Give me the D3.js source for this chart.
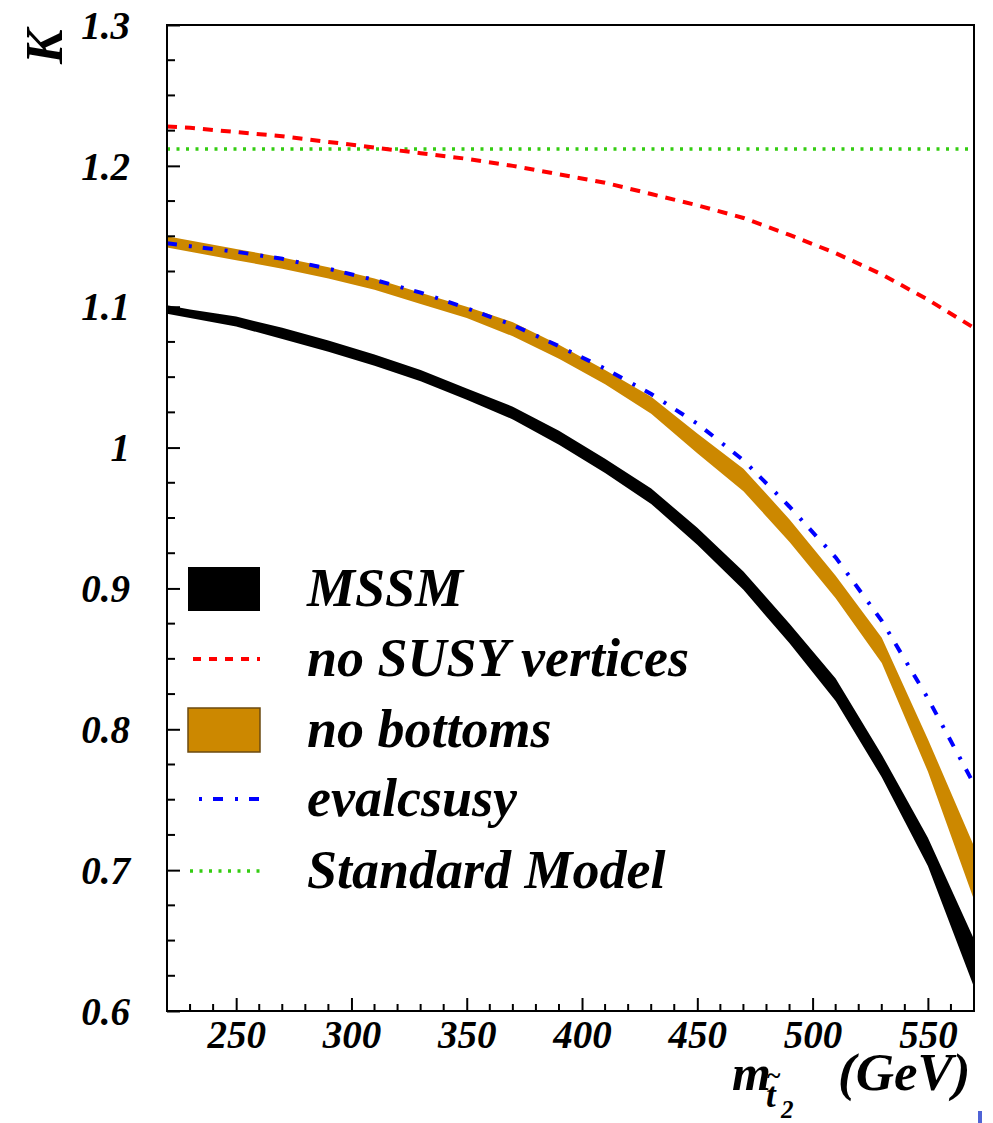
<!DOCTYPE html>
<html>
<head>
<meta charset="utf-8">
<script src="https://cdn.jsdelivr.net/npm/d3@7"></script>
<style>
  html, body { margin: 0; padding: 0; background: #fff; }
</style>
</head>
<body>
<div id="chart"></div>
<script>
// stop mass grid (GeV)
const massGrid = [220, 230, 250, 270, 290, 310, 330, 350, 370, 390, 410, 430, 450, 470, 490, 510, 530, 550, 570];

// MSSM band (upper / lower edge)
const mssmUpper = [1.101, 1.098, 1.093, 1.085, 1.076, 1.066, 1.055, 1.042, 1.029, 1.012, 0.992, 0.971, 0.943, 0.912, 0.875, 0.836, 0.782, 0.723, 0.651];
const mssmLower = [1.095, 1.092, 1.086, 1.077, 1.068, 1.058, 1.047, 1.034, 1.020, 1.002, 0.982, 0.960, 0.931, 0.899, 0.861, 0.820, 0.766, 0.703, 0.617];

// no bottoms band
const noBottomsUpper = [1.150, 1.147, 1.141, 1.135, 1.128, 1.120, 1.110, 1.100, 1.089, 1.073, 1.055, 1.036, 1.010, 0.985, 0.949, 0.909, 0.865, 0.793, 0.717];
const noBottomsLower = [1.142, 1.139, 1.133, 1.127, 1.120, 1.112, 1.102, 1.092, 1.079, 1.063, 1.045, 1.024, 0.996, 0.969, 0.933, 0.893, 0.847, 0.770, 0.679];

// no SUSY vertices
const noSusy = [1.228, 1.227, 1.224, 1.221, 1.217, 1.213, 1.209, 1.205, 1.200, 1.194, 1.188, 1.180, 1.172, 1.163, 1.151, 1.138, 1.123, 1.105, 1.085];

// evalcsusy
const evalcsusy = [1.145, 1.143, 1.139, 1.134, 1.127, 1.119, 1.110, 1.099, 1.087, 1.072, 1.056, 1.038, 1.017, 0.991, 0.958, 0.922, 0.877, 0.822, 0.761];

// Standard Model (flat)
const smValue = 1.212;
const smMass = [220, 570];

const xMajor = [250, 300, 350, 400, 450, 500, 550];
const yMajor = [0.6, 0.7, 0.8, 0.9, 1.0, 1.1, 1.2, 1.3];
const yTickLabels = ['0.6', '0.7', '0.8', '0.9', '1', '1.1', '1.2', '1.3'];

const legendLabels = ['MSSM', 'no SUSY vertices', 'no bottoms', 'evalcsusy', 'Standard Model'];

const W = 993;
const H = 1123;
const plot = { left: 167, right: 974, top: 25, bottom: 1011 };
const FONT = '"Liberation Serif", "Times New Roman", Times, serif';

const BROWN = '#cc8800';
const RED = '#ff0000';
const BLUE = '#0000ff';
const GREEN = '#33cc11';

const svg = d3.select('#chart').append('svg')
  .attr('width', W)
  .attr('height', H)
  .attr('font-family', FONT);

const x = d3.scaleLinear().domain([220, 570]).range([plot.left, plot.right]);
const y = d3.scaleLinear().domain([0.6, 1.3]).range([plot.bottom, plot.top]);

function styleText(sel, size) {
  return sel
    .attr('font-family', FONT)
    .attr('font-weight', 'bold')
    .attr('font-style', 'italic')
    .attr('font-size', size)
    .attr('fill', '#000');
}

svg.append('defs').append('clipPath').attr('id', 'clip')
  .append('rect')
  .attr('x', plot.left).attr('y', plot.top)
  .attr('width', plot.right - plot.left)
  .attr('height', plot.bottom - plot.top);

const curves = svg.append('g').attr('clip-path', 'url(#clip)');

const line = d3.line().x((d) => x(d[0])).y((d) => y(d[1]));
const band = d3.area().x((d) => x(d.m)).y0((d) => y(d.lo)).y1((d) => y(d.hi));

function bandData(upper, lower) {
  return massGrid.map((m, i) => ({ m, hi: upper[i], lo: lower[i] }));
}

// Standard Model
curves.append('path')
  .attr('d', line(smMass.map((m) => [m, smValue])))
  .attr('fill', 'none')
  .attr('stroke', GREEN)
  .attr('stroke-width', 3.5)
  .attr('stroke-dasharray', '3 6.5');

// no SUSY vertices
curves.append('path')
  .attr('d', line(massGrid.map((m, i) => [m, noSusy[i]])))
  .attr('fill', 'none')
  .attr('stroke', RED)
  .attr('stroke-width', 4)
  .attr('stroke-dasharray', '10 8');

// no bottoms
curves.append('path')
  .attr('d', band(bandData(noBottomsUpper, noBottomsLower)))
  .attr('fill', BROWN);

// evalcsusy
curves.append('path')
  .attr('d', line(massGrid.map((m, i) => [m, evalcsusy[i]])))
  .attr('fill', 'none')
  .attr('stroke', BLUE)
  .attr('stroke-width', 4)
  .attr('stroke-dasharray', '10 12 3 11');

// MSSM
curves.append('path')
  .attr('d', band(bandData(mssmUpper, mssmLower)))
  .attr('fill', '#000');

// ── Axes ─────────────────────────────────────────────
const yMinor = d3.range(0.6, 1.3001, 0.025).filter((v) => !yMajor.some((t) => Math.abs(t - v) < 1e-6));
const xMinor = d3.range(220, 571, 10).filter((v) => !xMajor.includes(v));

const yAxis = svg.append('g')
  .attr('transform', `translate(${plot.left},0)`)
  .call(d3.axisLeft(y).tickValues(yMajor).tickSize(-13).tickPadding(37)
    .tickFormat((d, i) => yTickLabels[i]));
yAxis.attr('font-family', FONT);
yAxis.select('.domain').remove();
yAxis.selectAll('line').attr('stroke', '#000').attr('stroke-width', 2);
styleText(yAxis.selectAll('text'), 39).attr('dy', '0.34em');

svg.append('g')
  .selectAll('line')
  .data(yMinor)
  .join('line')
  .attr('x1', plot.left).attr('x2', plot.left + 8)
  .attr('y1', (d) => y(d)).attr('y2', (d) => y(d))
  .attr('stroke', '#000').attr('stroke-width', 2);

const xAxis = svg.append('g')
  .attr('transform', `translate(0,${plot.bottom})`)
  .call(d3.axisBottom(x).tickValues(xMajor).tickSize(-13).tickPadding(9)
    .tickFormat(d3.format('d')));
xAxis.attr('font-family', FONT);
xAxis.select('.domain').remove();
xAxis.selectAll('line').attr('stroke', '#000').attr('stroke-width', 2);
styleText(xAxis.selectAll('text'), 39).attr('dy', '0.71em');

svg.append('g')
  .selectAll('line')
  .data(xMinor)
  .join('line')
  .attr('x1', (d) => x(d)).attr('x2', (d) => x(d))
  .attr('y1', plot.bottom).attr('y2', plot.bottom - 7)
  .attr('stroke', '#000').attr('stroke-width', 2);

// frame
svg.append('rect')
  .attr('x', plot.left).attr('y', plot.top)
  .attr('width', plot.right - plot.left)
  .attr('height', plot.bottom - plot.top)
  .attr('fill', 'none')
  .attr('stroke', '#000')
  .attr('stroke-width', 2);

// axis titles
styleText(svg.append('text'), 52)
  .attr('transform', 'translate(62,64) rotate(-90)')
  .text('K');

const xt = svg.append('g');
styleText(xt.append('text'), 50).attr('x', 732).attr('y', 1090).text('m');
styleText(xt.append('text'), 26).attr('x', 766).attr('y', 1084).text('~');
styleText(xt.append('text'), 35).attr('x', 766).attr('y', 1107).text('t');
styleText(xt.append('text'), 25).attr('x', 781).attr('y', 1118).text('2');
styleText(xt.append('text'), 53).attr('x', 838).attr('y', 1090).text('(GeV)');

// ── Legend ───────────────────────────────────────────
const legendRows = [589, 659, 730, 799, 871];
const lg = svg.append('g');

lg.append('rect')
  .attr('x', 188).attr('y', legendRows[0] - 22)
  .attr('width', 72).attr('height', 44)
  .attr('fill', '#000');

lg.append('line')
  .attr('x1', 193).attr('x2', 260)
  .attr('y1', legendRows[1]).attr('y2', legendRows[1])
  .attr('stroke', RED).attr('stroke-width', 4)
  .attr('stroke-dasharray', '8 8');

lg.append('rect')
  .attr('x', 188).attr('y', legendRows[2] - 22)
  .attr('width', 72).attr('height', 44)
  .attr('fill', BROWN)
  .attr('stroke', '#6b4a10')
  .attr('stroke-width', 1.5);

lg.append('line')
  .attr('x1', 199).attr('x2', 260)
  .attr('y1', legendRows[3]).attr('y2', legendRows[3])
  .attr('stroke', BLUE).attr('stroke-width', 4)
  .attr('stroke-dasharray', '3 11 10 12');

lg.append('line')
  .attr('x1', 190).attr('x2', 260)
  .attr('y1', legendRows[4]).attr('y2', legendRows[4])
  .attr('stroke', GREEN).attr('stroke-width', 3.5)
  .attr('stroke-dasharray', '3 6.5');

styleText(lg.selectAll('text.lbl')
  .data(legendLabels)
  .join('text')
  .attr('class', 'lbl'), 54)
  .attr('x', 307)
  .attr('y', (d, i) => legendRows[i] + 17)
  .text((d) => d);

// small corner mark
svg.append('rect')
  .attr('x', 978).attr('y', 1111)
  .attr('width', 4).attr('height', 12)
  .attr('fill', '#4f63d6');
</script>
</body>
</html>
